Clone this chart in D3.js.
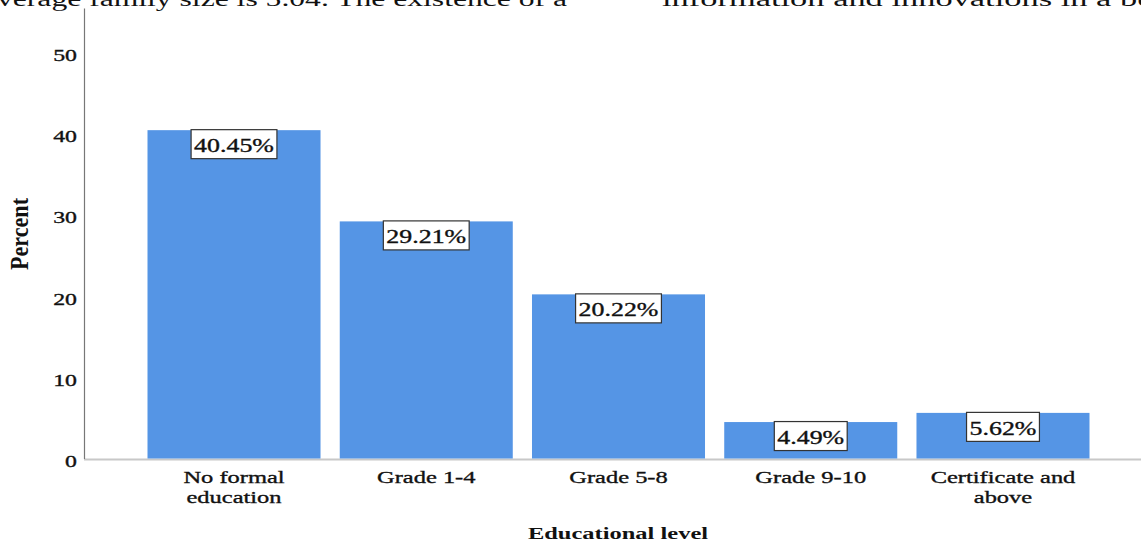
<!DOCTYPE html>
<html>
<head>
<meta charset="utf-8">
<script src="https://cdn.jsdelivr.net/npm/d3@7"></script>
<style>
  body { margin: 0; background: #fff; overflow: hidden; }
  text { font-family: "Liberation Serif", "DejaVu Serif", serif; fill: #111; }
  .heavy { stroke: #111; stroke-width: 0.35; }
</style>
</head>
<body>
<div id="chart"></div>
<script>
// data
const categories = ["No formal education", "Grade 1-4", "Grade 5-8", "Grade 9-10", "Certificate and above"];
const catLines = [["No formal", "education"], ["Grade 1-4"], ["Grade 5-8"], ["Grade 9-10"], ["Certificate and", "above"]];
const percents = [40.45, 29.21, 20.22, 4.49, 5.62];
const yTicks = [0, 10, 20, 30, 40, 50];

const width = 1141, height = 544;
const stretch = 1.4;   // the picture is squashed wide, text is too

let svg = d3.select("#chart")
  .append("svg")
  .attr("width", width)
  .attr("height", height);

// body text of the page cut off at the top
svg.append("text")
  .attr("x", -3).attr("y", 6)
  .attr("font-size", 20)
  .attr("textLength", 570)
  .attr("lengthAdjust", "spacingAndGlyphs")
  .text("verage family size is 5.04. The existence of a");
svg.append("text")
  .attr("x", 662).attr("y", 6)
  .attr("font-size", 20)
  .attr("textLength", 500)
  .attr("lengthAdjust", "spacingAndGlyphs")
  .text("information and innovations in a bet");

let x = d3.scaleBand()
  .domain(categories)
  .range([147.5, 1089.5])
  .paddingInner(0.1)
  .paddingOuter(0);

let y = d3.scaleLinear()
  .domain([0, 55.5])
  .range([458.5, 8]);

// x axis baseline
svg.append("line")
  .attr("x1", 84).attr("x2", width)
  .attr("y1", y(0) + 1).attr("y2", y(0) + 1)
  .attr("stroke", "#c8c8c8")
  .attr("stroke-width", 2);

// bars
svg.append("g")
  .selectAll("rect")
  .data(percents)
  .enter()
  .append("rect")
  .attr("x", (d, i) => x(categories[i]))
  .attr("y", d => y(d))
  .attr("width", x.bandwidth())
  .attr("height", d => y(0) - y(d))
  .attr("fill", "#5595e5");

// y axis
let yAxis = svg.append("g")
  .attr("transform", "translate(84,0)")
  .call(d3.axisLeft(y).tickValues(yTicks).tickSize(0).tickPadding(0));
yAxis.select(".domain").attr("stroke", "#777").attr("stroke-width", 1.2);
yAxis.selectAll(".tick text")
  .attr("class", "heavy")
  .attr("x", 0).attr("dy", null)
  .attr("transform", "translate(-7,8) scale(" + stretch + ",1)")
  .attr("font-size", 17)
  .attr("font-family", "Liberation Serif")
  .attr("fill", "#111")
  .attr("text-anchor", "end");

// category labels
let catG = svg.append("g")
  .selectAll("g")
  .data(categories)
  .enter()
  .append("g")
  .attr("transform", d => `translate(${x(d) + x.bandwidth() / 2},0)`);
catG.each(function (d, i) {
  let g = d3.select(this);
  catLines[i].forEach(function (line, k) {
    g.append("text")
      .attr("class", "heavy")
      .attr("transform", `translate(0,${483 + k * 20}) scale(${stretch},1)`)
      .attr("text-anchor", "middle")
      .attr("font-size", 17.5)
      .text(line);
  });
});

// value boxes
let labelG = svg.append("g")
  .selectAll("g")
  .data(percents)
  .enter()
  .append("g")
  .attr("transform", (d, i) => `translate(${x(categories[i]) + x.bandwidth() / 2},${y(d)})`);
labelG.append("text")
  .attr("class", "heavy")
  .attr("transform", `translate(0,22) scale(${stretch},1)`)
  .attr("text-anchor", "middle")
  .attr("font-size", 18.5)
  .text(d => d.toFixed(2) + "%");
labelG.each(function () {
  let g = d3.select(this);
  let w = g.select("text").node().getBBox().width * stretch + 6;
  g.insert("rect", "text")
    .attr("x", -w / 2)
    .attr("y", -0.5)
    .attr("width", w)
    .attr("height", 29)
    .attr("fill", "#fff")
    .attr("stroke", "#333")
    .attr("stroke-width", 1.2);
});

// axis titles
svg.append("text")
  .attr("transform", `translate(618,539) scale(${stretch},1)`)
  .attr("text-anchor", "middle")
  .attr("font-size", 17.5)
  .attr("font-weight", "bold")
  .text("Educational level");

svg.append("text")
  .attr("transform", `translate(28,234) scale(${stretch},1) rotate(-90)`)
  .attr("text-anchor", "middle")
  .attr("font-size", 17.5)
  .attr("font-weight", "bold")
  .attr("textLength", 72)
  .attr("lengthAdjust", "spacingAndGlyphs")
  .text("Percent");
</script>
</body>
</html>
